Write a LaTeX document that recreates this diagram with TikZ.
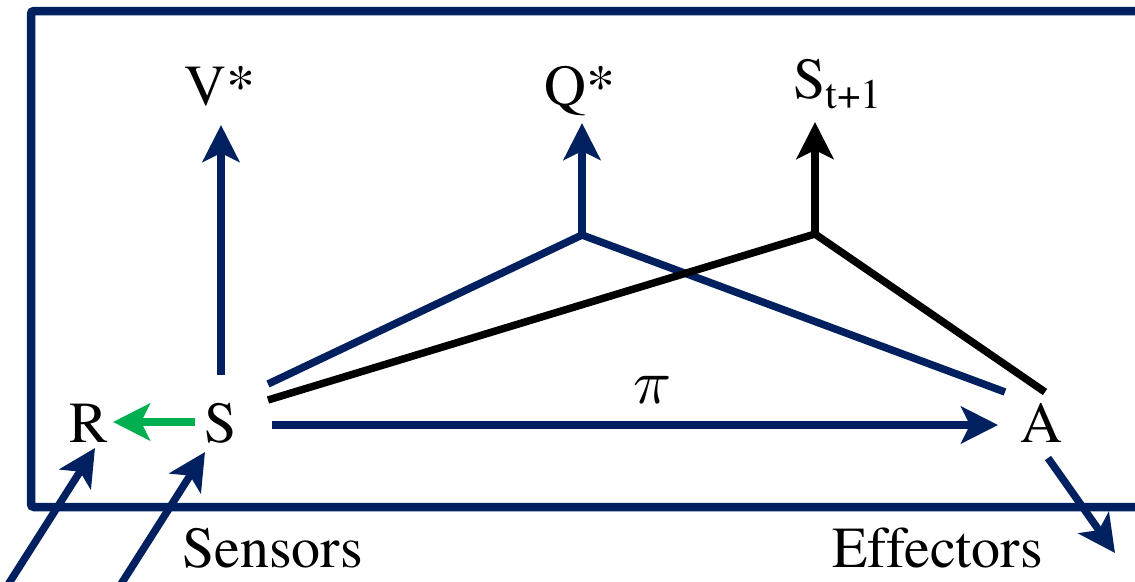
\documentclass[tikz,border=0pt]{standalone}
\usepackage{fontspec}
\newfontfamily\tms{texgyretermes}[Extension=.otf, UprightFont=*-regular, Ligatures=NoCommon]
\usetikzlibrary{arrows.meta}
\definecolor{navy}{RGB}{0,32,96}
\definecolor{grn}{RGB}{0,176,80}
\tikzset{
  lbl/.style={font=\tms\fontsize{58}{60}\selectfont, inner sep=0pt, anchor=base},
  tip/.style={-{Stealth[length=37pt,width=37pt,inset=9pt]}},
  conn/.style={line width=7.5pt, line join=miter},
  blue/.style={conn, draw=navy},
  blk/.style={conn, draw=black},
}
\begin{document}
\begin{tikzpicture}[x=1pt,y=-1pt]
\useasboundingbox (0,0) rectangle (1135,581);
% frame
\draw[navy, line width=8.5pt, rounded corners=3pt] (1160,11) -- (31,11) -- (31,507) -- (1160,507);
% text nodes
\node[lbl] (R) at (89,442) {R};
\node[lbl] (S) at (221,442) {S};
\node[lbl] (A) at (1041,442) {A};
\node[lbl] (V) at (220,105) {V*};
\node[lbl] (Q) at (580,105) {Q*};
\node[lbl, anchor=base west] (St) at (793,98) {S\raisebox{-10pt}{\tms\fontsize{42}{42}\selectfont t+1}};
\node[inner sep=0pt, anchor=base] (pi) at (653,403) {\scalebox{6.3}{$\pi$}};
\node[lbl, anchor=base west] (sens) at (182,567) {Sensors};
\node[lbl, anchor=base west] (eff) at (832,567) {Effectors};
% coordinates
\coordinate (jq) at (582,235);
\coordinate (js) at (815,234);
\coordinate (qtip) at (582,123);
\coordinate (stip) at (815,122);
\coordinate (vtip) at (221,125);
\coordinate (vbot) at (221,375);
\coordinate (sb1) at (268,384);
\coordinate (sb2) at (268,400);
\coordinate (ab1) at (1005,392);
\coordinate (ab2) at (1045,392);
\coordinate (pis) at (272,425);
\coordinate (pie) at (998,425);
\coordinate (gs) at (195,422);
\coordinate (ge) at (113,422);
\coordinate (in1s) at (4,591);
\coordinate (in1e) at (95,448);
\coordinate (in2s) at (116,592);
\coordinate (in2e) at (205,452);
\coordinate (outs) at (1048,458);
\coordinate (oute) at (1115,553);
% connectors
\draw[blue] (sb1) -- (jq) -- (ab1);
\draw[blk] (sb2) -- (js) -- (ab2);
\draw[blue, tip] (jq) -- (qtip);
\draw[blk, tip] (js) -- (stip);
\draw[blue, tip] (vbot) -- (vtip);
\draw[blue, tip] (pis) -- (pie);
\draw[conn, draw=grn, tip] (gs) -- (ge);
\draw[blue, tip] (in1s) -- (in1e);
\draw[blue, tip] (in2s) -- (in2e);
\draw[blue, tip] (outs) -- (oute);
\end{tikzpicture}
\end{document}
